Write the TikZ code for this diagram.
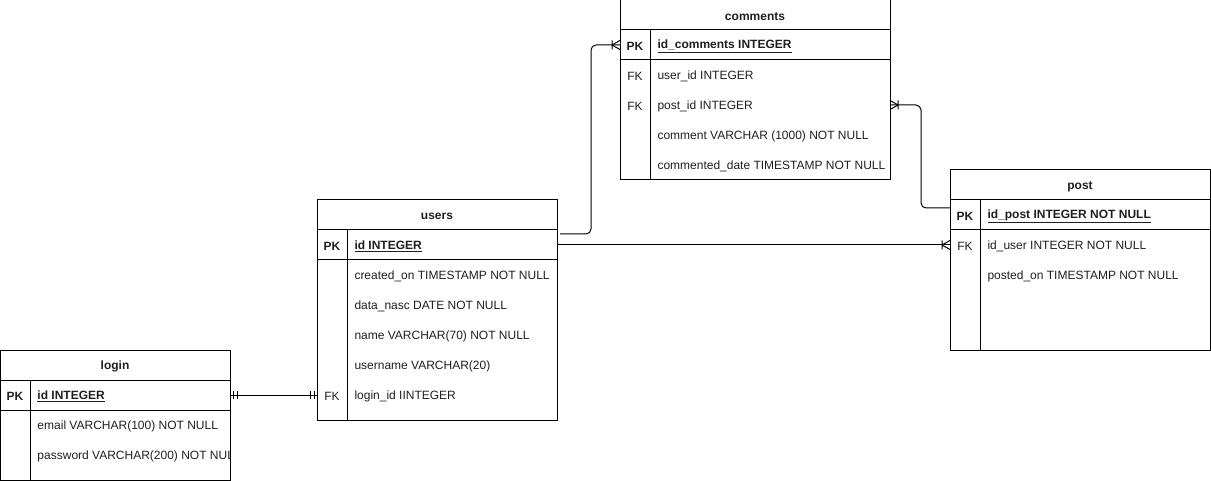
\documentclass[tikz,border=0pt]{standalone}
\usepackage{fontspec}
\setmainfont{Liberation Sans}
\usetikzlibrary{calc}

% Entity box: name, left, top, width, height, title (pixel units, y down)
\newcommand\ertable[6]{%
  \node[tbl, minimum width=#4*0.75pt, minimum height=#5*0.75pt] (#1) at (#2,#3) {};
  \node[title] (#1-title) at (#2+#4/2,#3+15) {#6};
  \draw (#2,#3+30) -- (#2+#4,#3+30);
  \draw (#2,#3+60) -- (#2+#4,#3+60);
  \draw (#2+30,#3+30) -- (#2+30,#3+#5);
}
% Crow's foot "one or many" end at a coordinate; #2 = 1 if the entity lies to the right, -1 otherwise
\newcommand\crowmany[2]{%
  \begin{scope}[shift={(#1)},xscale=#2]
    \draw (-8,0) -- (0,-4.5) (-8,0) -- (0,4.5) (-8,-4.5) -- (-8,4.5);
  \end{scope}}
% "Exactly one" end
\newcommand\crowone[2]{%
  \begin{scope}[shift={(#1)},xscale=#2]
    \draw (-3,-4) -- (-3,4) (-7,-4) -- (-7,4);
  \end{scope}}

\begin{document}
\begin{tikzpicture}[x=0.75pt,y=-0.75pt,line width=0.75pt,
  txt/.style={inner sep=0pt,yshift=-1.2pt,text=black!88},
  tbl/.style={draw,rectangle,inner sep=0pt,outer sep=0pt,anchor=north west},
  title/.style={txt,font=\bfseries\fontsize{9}{11}\selectfont},
  key/.style={txt,font=\fontsize{9}{11}\selectfont},
  pkkey/.style={txt,font=\bfseries\fontsize{9}{11}\selectfont},
  field/.style={txt,anchor=west,font=\fontsize{9}{11}\selectfont},
  pkfield/.style={txt,anchor=west,font=\bfseries\fontsize{9}{11}\selectfont},
  link/.style={draw,line width=0.75pt}]
\useasboundingbox (0,0) rectangle (1211,481);

% comments
\ertable{comments}{620}{0}{270}{180}{comments}
\node[pkkey] (comments-k1) at (635,45) {PK};
\node[pkfield] (comments-f1) at (657,45) {\underline{id\_comments INTEGER}};
\node[key] (comments-k2) at (635,75) {FK};
\node[field] (comments-f2) at (657,75) {user\_id INTEGER};
\node[key] (comments-k3) at (635,105) {FK};
\node[field] (comments-f3) at (657,105) {post\_id INTEGER};
\node[field] (comments-f4) at (657,135) {comment VARCHAR (1000) NOT NULL};
\node[field] (comments-f5) at (657,165) {commented\_date TIMESTAMP NOT NULL};

% post
\ertable{post}{950}{170}{260}{180}{post}
\node[pkkey] (post-k1) at (965,215) {PK};
\node[pkfield] (post-f1) at (987,215) {\underline{id\_post INTEGER NOT NULL}};
\node[key] (post-k2) at (965,245) {FK};
\node[field] (post-f2) at (987,245) {id\_user INTEGER NOT NULL};
\node[field] (post-f3) at (987,275) {posted\_on TIMESTAMP NOT NULL};

% users
\ertable{users}{317}{200}{240}{220}{users}
\node[pkkey] (users-k1) at (332,245) {PK};
\node[pkfield] (users-f1) at (354,245) {\underline{id INTEGER}};
\node[field] (users-f2) at (354,275) {created\_on TIMESTAMP NOT NULL};
\node[field] (users-f3) at (354,305) {data\_nasc DATE NOT NULL};
\node[field] (users-f4) at (354,335) {name VARCHAR(70) NOT NULL};
\node[field] (users-f5) at (354,365) {username VARCHAR(20)};
\node[key] (users-k6) at (332,395) {FK};
\node[field] (users-f6) at (354,395) {login\_id IINTEGER};

% login
\ertable{login}{0}{350}{230}{130}{login}
\node[pkkey] (login-k1) at (15,395) {PK};
\node[pkfield] (login-f1) at (37,395) {\underline{id INTEGER}};
\node[field] (login-f2) at (37,425) {email VARCHAR(100) NOT NULL};
\begin{scope}
  \clip (login.north west) rectangle (login.south east);
  \node[field] (login-f3) at (37,455) {password VARCHAR(200) NOT NULL};
\end{scope}

% relationships
\coordinate (users-out) at ($(users.north east)+(3,34)$);
\coordinate (comments-in) at (comments.west |- 0,45);
\draw[link,rounded corners=3.75pt] (users-out) -- (591,234) -- (591,45) -- (comments-in);
\crowmany{comments-in}{1}

\coordinate (comments-out) at (comments.east |- 0,105);
\coordinate (post-in) at ($(post.north west)+(0,38)$);
\draw[link,rounded corners=3.75pt] (comments-out) -- (921,105) -- (921,208) -- (post-in);
\crowmany{comments-out}{-1}

\coordinate (users-pk) at (users.east |- 0,245);
\coordinate (post-fk) at (post.west |- 0,245);
\draw[link] (users-pk) -- (post-fk);
\crowmany{post-fk}{1}

\coordinate (login-pk) at (login.east |- 0,395);
\coordinate (users-fk) at (users.west |- 0,395);
\draw[link] (login-pk) -- (users-fk);
\crowone{login-pk}{-1}
\crowone{users-fk}{1}
\end{tikzpicture}
\end{document}
